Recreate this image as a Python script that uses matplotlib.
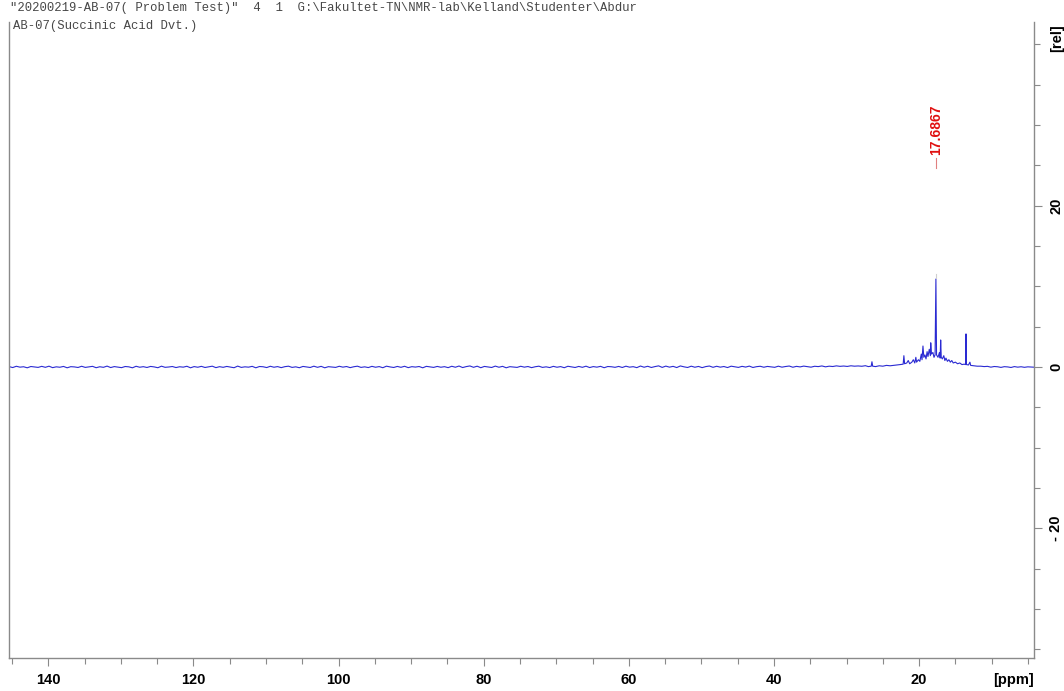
import numpy as np
import matplotlib
matplotlib.use("Agg")
import matplotlib.pyplot as plt
from matplotlib.ticker import MultipleLocator, FixedLocator

# ---- header text ----
title_line1 = '"20200219-AB-07( Problem Test)"  4  1  G:\\Fakultet-TN\\NMR-lab\\Kelland\\Studenter\\Abdur'
title_line2 = "AB-07(Succinic Acid Dvt.)"

# ---- axis ticks ----
x_major_ticks = [140, 120, 100, 80, 60, 40, 20]
y_major_ticks = [-20, 0, 20]
y_major_labels = ["- 20", "0", "20"]

# ---- baseline noise, 145.4 -> 27.4 ppm (intensity, rel), in four stretches ----
noise_a = [
    0.05, -0.07, 0.09, -0.02, 0.03, -0.10, 0.06, 0.00, -0.05, 0.08,
    -0.04, 0.10, -0.08, 0.02, -0.03, 0.07, -0.10, 0.04, 0.01, -0.06,
    0.09, -0.05, 0.01, 0.08, -0.09, 0.03, -0.04, 0.11, -0.07, 0.05,
    -0.02, -0.08, 0.06, 0.02, -0.10, 0.09, -0.03, 0.04, -0.06, 0.07,
    0.01, -0.09, 0.10, -0.04, 0.00, 0.06, -0.07, 0.03, -0.02, 0.09,
    -0.10, 0.05, -0.03, 0.08, -0.06, 0.02, 0.10, -0.08, 0.04, -0.04,
]
noise_b = [
    0.07, -0.01, -0.09, 0.11, -0.05, 0.02, -0.02, 0.08, -0.10, 0.06,
    0.03, -0.07, 0.09, -0.03, 0.05, -0.08, 0.04, 0.10, -0.05, 0.02,
    -0.09, 0.07, 0.01, -0.06, 0.10, -0.04, 0.08, -0.10, 0.04, 0.00,
    -0.05, 0.09, -0.02, 0.06, -0.08, 0.03, 0.10, -0.05, 0.02, -0.07,
    0.08, -0.03, 0.05, -0.09, 0.10, 0.01, -0.06, 0.07, -0.04, 0.09,
    -0.08, 0.04, -0.01, 0.06, -0.10, 0.08, 0.02, -0.05, 0.07, -0.03,
]
noise_c = [
    0.04, -0.08, 0.09, -0.03, 0.12, -0.07, 0.05, 0.13, -0.04, 0.10,
    -0.09, 0.07, 0.01, -0.06, 0.11, -0.03, 0.08, -0.10, 0.04, 0.00,
    -0.05, 0.09, -0.02, 0.06, -0.08, 0.03, 0.10, -0.05, 0.02, -0.07,
    0.08, -0.03, 0.05, -0.09, 0.09, 0.01, -0.06, 0.07, -0.04, 0.10,
    -0.07, 0.05, -0.02, 0.08, -0.09, 0.06, 0.03, -0.04, 0.07, -0.06,
    0.10, -0.02, 0.04, -0.08, 0.12, -0.03, 0.09, -0.06, 0.05, 0.14,
]
noise_d = [
    -0.05, 0.11, -0.02, 0.08, -0.07, 0.13, 0.02, -0.06, 0.10, -0.03,
    0.07, -0.08, 0.05, 0.12, -0.04, 0.09, -0.02, 0.06, -0.07, 0.10,
    0.03, -0.05, 0.08, -0.01, 0.11, -0.06, 0.04, 0.09, -0.03, 0.07,
    0.02, -0.04, 0.10, -0.02, 0.06, 0.12, -0.03, 0.08, 0.01, 0.11,
    0.04, -0.02, 0.09, 0.05, 0.13, 0.02, 0.10, 0.06, 0.14, 0.08,
    0.12, 0.07, 0.15, 0.10, 0.13, 0.09, 0.16,
]
base_left_start, base_left_end = 145.4, 27.4

# ---- aliphatic region with the signals (ppm, intensity) ----
peak_ppm = [
    27.0, 26.6, 26.5, 26.4, 26.0, 25.5, 25.0, 24.5, 24.0, 23.5,
    23.0, 22.6, 22.2, 22.1, 22.0, 21.7, 21.5, 21.3, 21.0, 20.8,
    20.6, 20.45, 20.35, 20.1, 19.9, 19.7, 19.6, 19.47, 19.35, 19.2,
    19.05, 18.9, 18.78, 18.6, 18.45, 18.4, 18.3, 18.1, 17.95, 17.8,
    17.6867, 17.6, 17.4, 17.2, 17.1, 17.03, 16.95, 16.8, 16.6, 16.45,
    16.3, 16.1, 15.9, 15.7, 15.5, 15.3, 15.0, 14.7, 14.4, 14.1,
    13.8, 13.6, 13.54, 13.48, 13.2, 13.0, 12.9, 12.5, 12.0,
]
peak_int = [
    0.05, 0.10, 0.65, 0.10, 0.05, 0.15, 0.10, 0.20, 0.15, 0.20,
    0.25, 0.30, 0.35, 1.40, 0.40, 0.50, 0.80, 0.40, 0.60, 0.90,
    0.50, 1.20, 0.60, 0.90, 0.70, 1.60, 0.90, 2.60, 1.20, 1.50,
    1.00, 1.90, 1.30, 2.20, 1.40, 3.00, 1.60, 1.80, 1.20, 1.50,
    10.90, 1.50, 1.20, 1.80, 1.10, 3.35, 1.20, 1.00, 1.40, 0.80,
    1.10, 0.70, 0.90, 0.60, 0.80, 0.50, 0.60, 0.40, 0.50, 0.30,
    0.35, 0.30, 4.10, 0.30, 0.25, 0.60, 0.20, 0.15, 0.10,
]

# ---- baseline 11.5 -> 4.1 ppm ----
base_right_int = [0.10, 0.05, 0.08, -0.02, 0.06, 0.03, -0.05, 0.04, 0.01,
                  -0.06, 0.05, -0.02, 0.03, -0.04, 0.02, 0.00, -0.03]
base_right_start, base_right_end = 11.5, 4.1

# ---- picked peak ----
pick_ppm = 17.6867
pick_label = "17.6867"

# assemble the trace
base_left_int = noise_a + noise_b + noise_c + noise_d
ppm = np.concatenate([
    np.linspace(base_left_start, base_left_end, len(base_left_int)),
    np.array(peak_ppm),
    np.linspace(base_right_start, base_right_end, len(base_right_int)),
])
intensity = np.concatenate([base_left_int, peak_int, base_right_int])

W, H = 1064, 691
fig = plt.figure(figsize=(W / 100, H / 100), dpi=100)
ax = fig.add_axes([9 / W, 33 / H, (1034 - 9) / W, (658 - 22) / H])

ax.plot(ppm, intensity, color="#2a2ad2", lw=0.8)

# peak pick annotation
pk_h = peak_int[peak_ppm.index(pick_ppm)]
ax.plot([pick_ppm, pick_ppm], [pk_h + 0.1, pk_h + 0.6], color="#d0d0d0", lw=0.8)
ax.plot([pick_ppm, pick_ppm], [24.7, 25.9], color="#e08080", lw=0.8)
ax.text(pick_ppm, 26.3, pick_label, rotation=90, ha="center", va="bottom",
        color="#e01010", fontsize=10, fontweight="bold", family="Liberation Sans")

ax.set_xlim(145.41, 4.17)
ax.set_ylim(-36.06, 42.75)

axis_gray = "#8a8a8a"
for side in ("left", "bottom", "right"):
    ax.spines[side].set_color(axis_gray)
    ax.spines[side].set_linewidth(1.0)
ax.spines["top"].set_visible(False)

ax.xaxis.set_major_locator(FixedLocator(x_major_ticks))
ax.xaxis.set_minor_locator(MultipleLocator(5))
ax.set_xticklabels([str(v) for v in x_major_ticks])
ax.tick_params(axis="x", which="major", direction="out", length=6, width=0.8,
               color=axis_gray, pad=5, labelsize=10.5)
ax.tick_params(axis="x", which="minor", direction="out", length=4, width=0.8,
               color=axis_gray)
for lab in ax.get_xticklabels():
    lab.set_fontweight("bold")
    lab.set_family("Liberation Sans")

ax.yaxis.tick_right()
ax.yaxis.set_major_locator(FixedLocator(y_major_ticks))
ax.yaxis.set_minor_locator(MultipleLocator(5))
ax.set_yticklabels(y_major_labels)
ax.tick_params(axis="y", which="major", direction="out", length=6, width=0.8,
               color=axis_gray, pad=5, labelsize=10.5)
ax.tick_params(axis="y", which="minor", direction="out", length=4, width=0.8,
               color=axis_gray)
for lab in ax.get_yticklabels():
    lab.set_fontweight("bold")
    lab.set_family("Liberation Sans")
    lab.set_rotation(90)
    lab.set_verticalalignment("center")

# unit labels
fig.text(1013 / W, 1 - 680 / H, "[ppm]", ha="center", va="center",
         fontsize=10.5, fontweight="bold", family="Liberation Sans")
fig.text(1057 / W, 1 - 38 / H, "[rel]", ha="center", va="center", rotation=90,
         fontsize=10.5, fontweight="bold", family="Liberation Sans")

# header lines
fig.text(10 / W, 1 - 8 / H, title_line1, ha="left", va="center",
         family="Liberation Mono", fontsize=8.85, color="#474747")
fig.text(13 / W, 1 - 26 / H, title_line2, ha="left", va="center",
         family="Liberation Mono", fontsize=8.85, color="#474747")

fig.savefig("out.png", dpi=100, facecolor="white")
